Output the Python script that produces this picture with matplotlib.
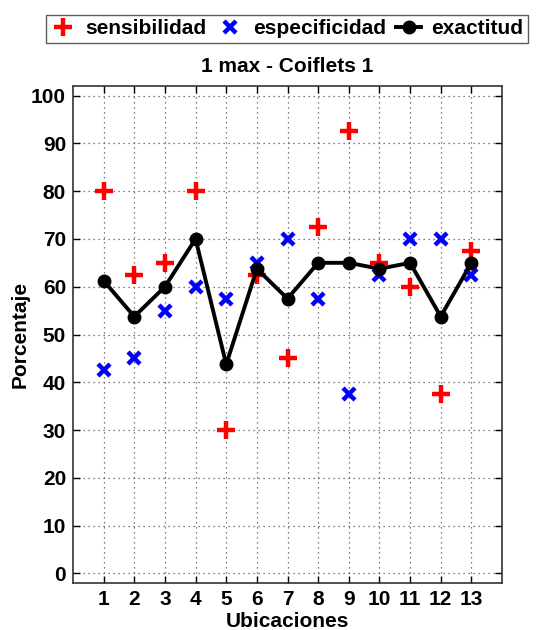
import numpy as np
import matplotlib.pyplot as plt

plt.rcParams["font.family"] = ["Liberation Sans", "DejaVu Sans"]
plt.rcParams["font.weight"] = "bold"

# ── Datos ──────────────────────────────────────────────────────────────────────
ubicaciones = list(range(1, 14))
sensibilidad = [80, 62.5, 65, 80, 30, 62.5, 45, 72.5, 92.5, 65, 60, 37.5, 67.5]
especificidad = [42.5, 45, 55, 60, 57.5, 65, 70, 57.5, 37.5, 62.5, 70, 70, 62.5]
exactitud = [61.25, 53.75, 60, 70, 43.75, 63.75, 57.5, 65, 65, 63.75, 65, 53.75, 65]

fig = plt.figure(figsize=(5.49, 6.30), dpi=100)
ax = fig.add_axes([73 / 549, 1 - 583 / 630, (502 - 73) / 549, (583 - 86) / 630])

ax.plot(ubicaciones, sensibilidad, linestyle="none", marker="+", color="red",
        markersize=13, markeredgewidth=3.2, label="sensibilidad")
ax.plot(ubicaciones, especificidad, linestyle="none", marker="x", color="blue",
        markersize=9, markeredgewidth=3.2, label="especificidad")
ax.plot(ubicaciones, exactitud, color="black", linewidth=2.8, marker="o",
        markersize=9, label="exactitud")

ax.set_xlim(0, 14)
ax.set_ylim(-2, 102)
ax.set_xticks(ubicaciones)
ax.set_yticks(range(0, 101, 10))
ax.tick_params(direction="in", top=True, right=True, labelsize=15, length=5,
               width=1, pad=5)
for lab in ax.get_xticklabels() + ax.get_yticklabels():
    lab.set_fontweight("bold")
ax.grid(True, color="#555555", linestyle=(0, (1, 3)), linewidth=0.9)
for s in ax.spines.values():
    s.set_color("#333333")
    s.set_linewidth(1.2)

ax.set_xlabel("Ubicaciones", fontsize=15, fontweight="bold", labelpad=2)
ax.set_ylabel("Porcentaje", fontsize=15, fontweight="bold", labelpad=1)
ax.set_title("1 max - Coiflets 1", fontsize=15, fontweight="bold", pad=10)

leg = fig.legend(loc="center", bbox_to_anchor=(287 / 549, 1 - 29 / 630), ncol=3,
                 frameon=True, fancybox=False, edgecolor="#333333",
                 prop={"size": 15, "weight": "bold"}, handlelength=1.2,
                 columnspacing=0.5, handletextpad=0.5, borderpad=0.2)
leg.get_frame().set_linewidth(1.0)

fig.savefig("out.png", dpi=100, facecolor="white")
